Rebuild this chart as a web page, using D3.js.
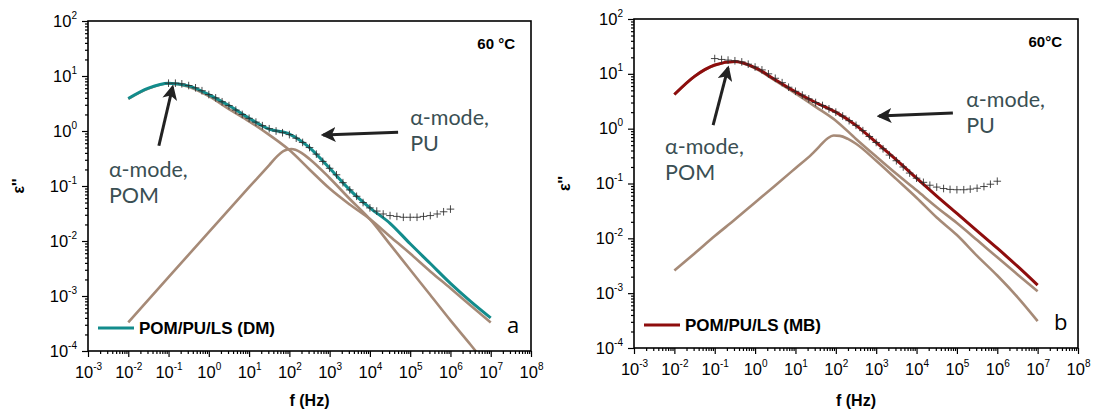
<!DOCTYPE html>
<html>
<head>
<meta charset="utf-8">
<script src="https://cdn.jsdelivr.net/npm/d3@7"></script>
<style>
  body { margin: 0; background: #fff; }
</style>
</head>
<body>
<script>
const W = 1093, H = 410;

// tick exponents
const xExps = [-3, -2, -1, 0, 1, 2, 3, 4, 5, 6, 7, 8];
const yExps = [-4, -3, -2, -1, 0, 1, 2];

// all series are [log10 f (Hz), eps'']

// panel a : POM/PU/LS (DM)
const fitDM = [[-2, 3.9], [-1.5, 6.0], [-1, 7.4], [-0.5, 6.6], [0, 4.6], [0.5, 2.9], [1, 1.7], [1.5, 1.08],
  [2, 0.88], [2.5, 0.5], [3, 0.21], [3.5, 0.085], [4, 0.04], [4.5, 0.021], [5, 0.0089], [5.5, 0.0039],
  [6, 0.0017], [6.5, 0.0008], [7, 0.0004]];
const pomDM = [[-2, 3.85], [-1.5, 5.9], [-1, 7.3], [-0.5, 6.4], [0, 4.3], [0.5, 2.5], [1, 1.5], [1.5, 0.85],
  [2, 0.45], [2.5, 0.2], [3, 0.09], [3.5, 0.046], [4, 0.025], [4.5, 0.0121], [5, 0.0059], [5.5, 0.0028],
  [6, 0.00138], [6.5, 0.00067], [7, 0.00033]];
const puDM = [[-2, 0.00033], [-1, 0.0022], [0, 0.0145], [1, 0.095], [1.5, 0.24], [1.7, 0.35], [1.85, 0.43],
  [1.95, 0.46], [2.05, 0.47], [2.15, 0.455], [2.3, 0.4], [2.5, 0.31], [3, 0.14], [3.5, 0.058], [4, 0.025],
  [4.5, 0.0087], [5, 0.003], [5.5, 0.00104], [6, 0.00036], [6.5, 0.00013], [7, 0.000045]];
const dataDM = [[-1, 7.4], [-0.83, 7.4], [-0.67, 7.2], [-0.5, 6.7], [-0.33, 6.1], [-0.17, 5.4], [0, 4.6],
  [0.17, 4.0], [0.33, 3.4], [0.5, 2.9], [0.67, 2.4], [0.83, 2.0], [1, 1.7], [1.17, 1.45], [1.33, 1.25],
  [1.5, 1.1], [1.67, 1.0], [1.83, 0.93], [2, 0.86], [2.17, 0.74], [2.33, 0.62], [2.5, 0.5], [2.67, 0.38],
  [2.83, 0.28], [3, 0.21], [3.17, 0.16], [3.33, 0.115], [3.5, 0.085], [3.67, 0.065], [3.83, 0.05], [4, 0.04],
  [4.17, 0.035], [4.33, 0.031], [4.5, 0.029], [4.67, 0.028], [4.83, 0.027], [5, 0.027], [5.17, 0.027],
  [5.33, 0.028], [5.5, 0.029], [5.67, 0.031], [5.83, 0.034], [6, 0.038]];

// panel b : POM/PU/LS (MB)
const fitMB = [[-2, 4.2], [-1.5, 9], [-1, 14.5], [-0.5, 16.8], [0, 13], [0.5, 7.8], [1, 4.7], [1.5, 3.0],
  [2, 2.0], [2.5, 1.15], [3, 0.56], [3.5, 0.27], [4, 0.125], [4.5, 0.059], [5, 0.0285], [5.5, 0.0137],
  [6, 0.0066], [6.5, 0.0031], [7, 0.0014]];
const pomMB = [[-2, 4.2], [-1.5, 9], [-1, 14.3], [-0.5, 16.6], [0, 12.6], [0.5, 7.5], [1, 4.4], [1.5, 2.5],
  [2, 1.4], [2.5, 0.65], [3, 0.31], [3.5, 0.15], [4, 0.075], [4.5, 0.037], [5, 0.019], [5.5, 0.0093],
  [6, 0.0045], [6.5, 0.0022], [7, 0.00108]];
const puMB = [[-2, 0.0026], [-1.5, 0.0053], [-1, 0.011], [-0.5, 0.022], [0, 0.045], [0.5, 0.092], [1, 0.19],
  [1.4, 0.34], [1.6, 0.48], [1.8, 0.67], [1.95, 0.75], [2.1, 0.74], [2.3, 0.65], [2.5, 0.53], [3, 0.26],
  [3.5, 0.12], [4, 0.055], [4.5, 0.024], [5, 0.0115], [5.5, 0.0048], [6, 0.0021], [6.5, 0.00085], [7, 0.00031]];
const dataMB = [[-1, 19], [-0.83, 18.3], [-0.67, 17.8], [-0.5, 17.3], [-0.33, 16.5], [-0.17, 15], [0, 13.3],
  [0.17, 11.8], [0.33, 10], [0.5, 8.3], [0.67, 6.9], [0.83, 5.7], [1, 4.8], [1.17, 4.1], [1.33, 3.5],
  [1.5, 3.0], [1.67, 2.65], [1.83, 2.3], [2, 2.0], [2.17, 1.7], [2.33, 1.4], [2.5, 1.15], [2.67, 0.92],
  [2.83, 0.72], [3, 0.56], [3.17, 0.43], [3.33, 0.33], [3.5, 0.26], [3.67, 0.2], [3.83, 0.155], [4, 0.125],
  [4.17, 0.105], [4.33, 0.093], [4.5, 0.086], [4.67, 0.081], [4.83, 0.078], [5, 0.077], [5.17, 0.077],
  [5.33, 0.079], [5.5, 0.082], [5.67, 0.088], [5.83, 0.097], [6, 0.11]];

const brown = "#a68a77";
const noteColor = "#3a4f53";

const panels = [
  {
    id: "a", left: 88, right: 531, top: 21, bottom: 351,
    fit: fitDM, parts: [pomDM, puDM], points: dataDM, fitColor: "#138c8c",
    legend: "POM/PU/LS (DM)", temp: "60 °C", letter: "a",
    notes: [
      { lines: ["α-mode,", "POM"], at: [-2.48, 0.145], arrow: [[-1.24, 0.54], [-0.9, 6.3]] },
      { lines: ["α-mode,", "PU"], at: [5.0, 1.3], arrow: [[4.7, 0.95], [2.84, 0.85]] }
    ]
  },
  {
    id: "b", left: 634, right: 1078, top: 19, bottom: 348,
    fit: fitMB, parts: [pomMB, puMB], points: dataMB, fitColor: "#8e0d0d",
    legend: "POM/PU/LS (MB)", temp: "60°C", letter: "b",
    notes: [
      { lines: ["α-mode,", "POM"], at: [-2.23, 0.35], arrow: [[-1.04, 1.16], [-0.67, 12.8]] },
      { lines: ["α-mode,", "PU"], at: [5.23, 2.45], arrow: [[4.9, 1.93], [3.07, 1.7]] }
    ]
  }
];

const svg = d3.select("body").append("svg")
  .attr("width", W)
  .attr("height", H)
  .style("font-family", "'Liberation Sans', Arial, sans-serif");

const defs = svg.append("defs");
defs.append("marker")
  .attr("id", "head")
  .attr("markerUnits", "userSpaceOnUse")
  .attr("viewBox", "0 0 12 12")
  .attr("refX", 10).attr("refY", 6)
  .attr("markerWidth", 15).attr("markerHeight", 15)
  .attr("orient", "auto")
  .append("path")
  .attr("d", "M0,0 L12,6 L0,12 L3,6 Z")
  .attr("fill", "#222");

panels.forEach(drawPanel);

function drawPanel(p) {
  const x = d3.scaleLog().domain([1e-3, 1e8]).range([p.left, p.right]);
  const y = d3.scaleLog().domain([1e-4, 1e2]).range([p.bottom, p.top]);
  const g = svg.append("g").attr("id", "panel-" + p.id);

  defs.append("clipPath").attr("id", "clip-" + p.id)
    .append("rect")
    .attr("x", p.left).attr("y", p.top)
    .attr("width", p.right - p.left).attr("height", p.bottom - p.top);

  const minorX = [], minorY = [];
  xExps.slice(0, -1).forEach(e => { for (let k = 2; k < 10; k++) minorX.push(k * Math.pow(10, e)); });
  yExps.slice(0, -1).forEach(e => { for (let k = 2; k < 10; k++) minorY.push(k * Math.pow(10, e)); });

  // minor ticks
  g.append("g").attr("transform", `translate(0,${p.bottom})`)
    .call(d3.axisBottom(x).tickValues(minorX).tickSize(3).tickFormat(""))
    .call(a => a.select(".domain").remove());
  g.append("g").attr("transform", `translate(${p.left},0)`)
    .call(d3.axisLeft(y).tickValues(minorY).tickSize(3).tickFormat(""))
    .call(a => a.select(".domain").remove());

  // major ticks + labels
  const xa = g.append("g").attr("transform", `translate(0,${p.bottom})`)
    .call(d3.axisBottom(x).tickValues(xExps.map(e => Math.pow(10, e))).tickSize(6).tickFormat(""))
    .call(a => a.select(".domain").remove());
  xa.selectAll(".tick").data(xExps).append("text")
    .attr("y", 27)
    .attr("fill", "#000")
    .attr("text-anchor", "middle")
    .style("font-size", "16.5px")
    .each(function (e) { supLabel(d3.select(this), e); });

  const ya = g.append("g").attr("transform", `translate(${p.left},0)`)
    .call(d3.axisLeft(y).tickValues(yExps.map(e => Math.pow(10, e))).tickSize(6).tickFormat(""))
    .call(a => a.select(".domain").remove());
  ya.selectAll(".tick").data(yExps).append("text")
    .attr("x", -11)
    .attr("y", 5)
    .attr("fill", "#000")
    .attr("text-anchor", "end")
    .style("font-size", "16.5px")
    .each(function (e) { supLabel(d3.select(this), e); });

  g.selectAll(".tick line").attr("stroke", "#000").attr("stroke-width", 1.2);

  // curves
  const line = d3.line()
    .x(d => x(Math.pow(10, d[0])))
    .y(d => y(d[1]))
    .curve(d3.curveMonotoneX);

  const plot = g.append("g").attr("clip-path", `url(#clip-${p.id})`);
  plot.selectAll("path.part").data(p.parts).enter().append("path")
    .attr("class", "part")
    .attr("d", line)
    .attr("fill", "none")
    .attr("stroke", brown)
    .attr("stroke-width", 2.6);

  plot.append("path")
    .attr("d", line(p.fit))
    .attr("fill", "none")
    .attr("stroke", p.fitColor)
    .attr("stroke-width", 3);

  const s = 3.8;
  plot.selectAll("path.pt").data(p.points).enter().append("path")
    .attr("class", "pt")
    .attr("d", d => {
      const cx = x(Math.pow(10, d[0])), cy = y(d[1]);
      return `M${cx - s},${cy}H${cx + s}M${cx},${cy - s}V${cy + s}`;
    })
    .attr("stroke", "#2a2a2a")
    .attr("stroke-opacity", 0.85)
    .attr("stroke-width", 1);

  // frame
  g.append("rect")
    .attr("x", p.left).attr("y", p.top)
    .attr("width", p.right - p.left).attr("height", p.bottom - p.top)
    .attr("fill", "none")
    .attr("stroke", "#000")
    .attr("stroke-width", 1.6);

  // annotations
  p.notes.forEach(n => {
    const a = n.arrow;
    g.append("line")
      .attr("x1", x(Math.pow(10, a[0][0]))).attr("y1", y(a[0][1]))
      .attr("x2", x(Math.pow(10, a[1][0]))).attr("y2", y(a[1][1]))
      .attr("stroke", "#222")
      .attr("stroke-width", 3)
      .attr("marker-end", "url(#head)");
    const t = g.append("text")
      .attr("x", x(Math.pow(10, n.at[0])))
      .attr("y", y(n.at[1]))
      .attr("fill", noteColor)
      .style("font-family", "Lato, 'Open Sans', sans-serif")
      .style("font-size", "21.5px");
    n.lines.forEach((l, i) => {
      t.append("tspan")
        .attr("x", x(Math.pow(10, n.at[0])))
        .attr("dy", i === 0 ? 0 : 26)
        .text(l);
    });
  });

  // temperature
  g.append("text")
    .attr("x", p.right - 16)
    .attr("y", p.top + 28)
    .attr("text-anchor", "end")
    .style("font-size", "15px")
    .style("font-weight", "bold")
    .text(p.temp);

  // legend
  g.append("line")
    .attr("x1", p.left + 10).attr("x2", p.left + 46)
    .attr("y1", p.bottom - 23).attr("y2", p.bottom - 23)
    .attr("stroke", p.fitColor)
    .attr("stroke-width", 3);
  g.append("text")
    .attr("x", p.left + 51)
    .attr("y", p.bottom - 17)
    .style("font-size", "17px")
    .style("font-weight", "bold")
    .text(p.legend);

  // panel letter
  g.append("text")
    .attr("x", p.right - 24)
    .attr("y", p.bottom - 18)
    .style("font-family", "'Open Sans', sans-serif")
    .style("font-size", "22px")
    .text(p.letter);

  // axis titles
  g.append("text")
    .attr("x", (p.left + p.right) / 2)
    .attr("y", 406)
    .attr("text-anchor", "middle")
    .style("font-size", "16px")
    .style("font-weight", "bold")
    .text("f (Hz)");
  g.append("text")
    .attr("transform", `translate(${p.left - 64},${(p.top + p.bottom) / 2}) rotate(-90)`)
    .attr("text-anchor", "middle")
    .style("font-size", "16px")
    .style("font-weight", "bold")
    .text("ε''");
}

function supLabel(sel, e) {
  sel.append("tspan").text("10");
  sel.append("tspan")
    .attr("dy", -8)
    .style("font-size", "10px")
    .text(e);
}
</script>
</body>
</html>
